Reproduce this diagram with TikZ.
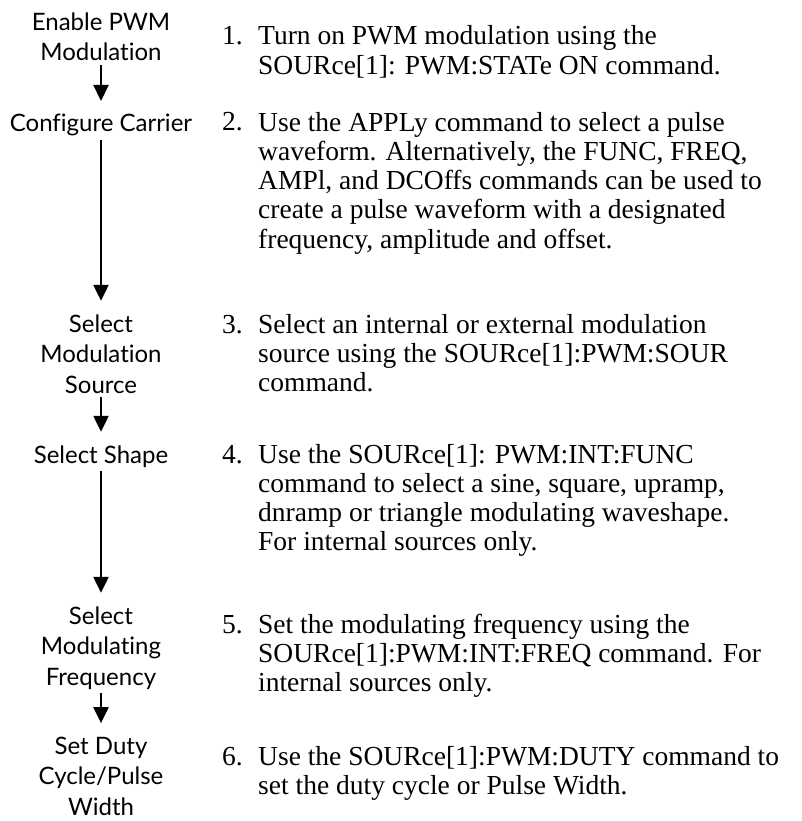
\documentclass[tikz,border=0pt]{standalone}
\usepackage{fontspec}
\setmainfont{Liberation Serif}
\newfontfamily\labfont{Lato}[Ligatures={NoCommon,NoRare}]
\usetikzlibrary{arrows.meta}
\begin{document}
\begin{tikzpicture}[x=1pt,y=-1pt,
  lab/.style={font=\labfont\fontsize{24}{30.5}\selectfont, align=center, inner sep=0pt, outer sep=4pt, anchor=base},
  par/.style={font=\fontsize{27.5}{29.3}\selectfont, execute at begin node={\lineskiplimit=-50pt\relax}, align=left, inner sep=0pt, anchor=base west},
  num/.style={font=\fontsize{27.5}{29.3}\selectfont, inner sep=0pt, anchor=base west},
  flow/.style={line width=2.2pt, -{Triangle[width=15pt,length=16pt]}, shorten >=9.5pt}]
\useasboundingbox (0,0) rectangle (802,821);
% left column (anchored at the baseline of the last line)
\node[lab] (l1) at (101,61) {Enable PWM\\Modulation};
\node[lab] (l2) at (101,132) {Configure Carrier};
\node[lab] (l3) at (101,393) {Select\\Modulation\\Source};
\node[lab] (l4) at (101,463) {Select Shape};
\node[lab] (l5) at (101,685) {Select\\Modulating\\Frequency};
\node[lab] (l6) at (101,815) {Set Duty\\Cycle/Pulse\\Width};
\draw[flow] (l1.south) -- (l2.north);
\draw[flow] (l2.south) -- (l3.north);
\draw[flow] (l3.south) -- (l4.north);
\draw[flow] (l4.south) -- (l5.north);
\draw[flow] (l5.south) -- (l6.north);
% right column (anchored at the baseline of the last line)
\node[num] (n1) at (222,45) {1.};
\node[par] (p1) at (258,74.3) {Turn on PWM modulation using the\\SOURce[1]: PWM:STATe ON command.};
\node[num] (n2) at (222,131) {2.};
\node[par] (p2) at (258,248.2) {Use the APPLy command to select a pulse\\waveform. Alternatively, the FUNC, FREQ,\\AMPl, and DCOffs commands can be used to\\create a pulse waveform with a designated\\frequency, amplitude and offset.};
\node[num] (n3) at (222,333) {3.};
\node[par] (p3) at (258,391.6) {Select an internal or external modulation\\source using the SOURce[1]:PWM:SOUR\\command.};
\node[num] (n4) at (222,463) {4.};
\node[par] (p4) at (258,550.9) {Use the SOURce[1]: PWM:INT:FUNC\\command to select a sine, square, upramp,\\dnramp or triangle modulating waveshape.\\For internal sources only.};
\node[num] (n5) at (222,633) {5.};
\node[par] (p5) at (258,691.6) {Set the modulating frequency using the\\SOURce[1]:PWM:INT:FREQ command. For\\internal sources only.};
\node[num] (n6) at (222,765) {6.};
\node[par] (p6) at (258,794.3) {Use the SOURce[1]:PWM:DUTY command to\\set the duty cycle or Pulse Width.};
\end{tikzpicture}
\end{document}
